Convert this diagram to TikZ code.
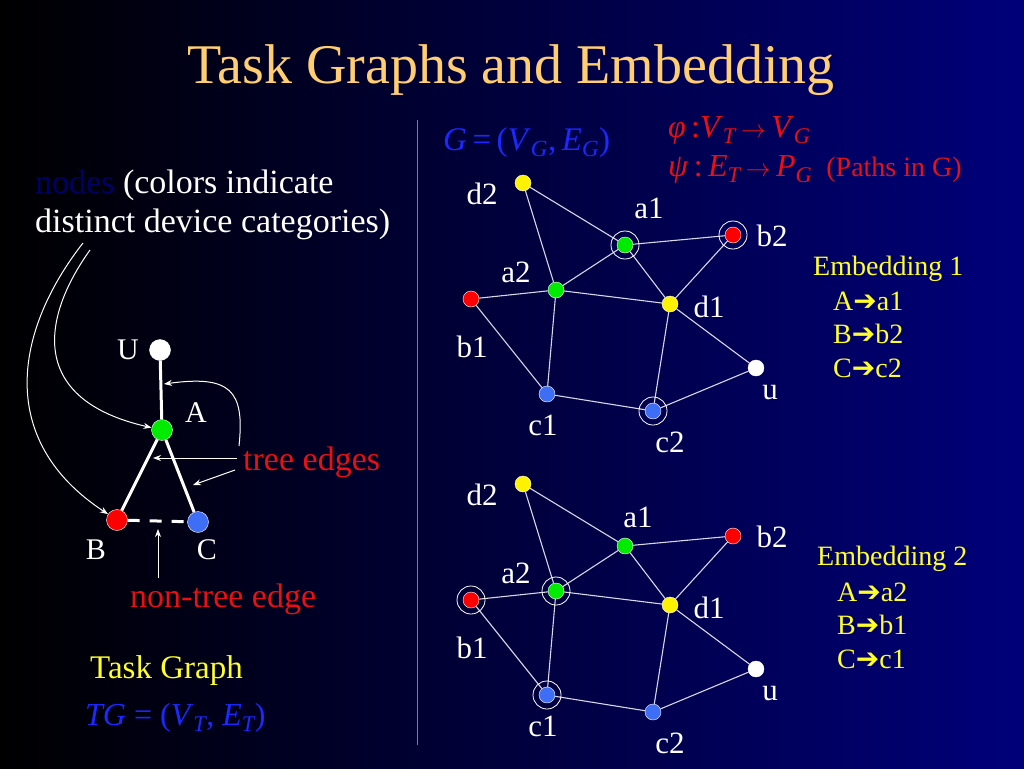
\documentclass[tikz,border=0pt]{standalone}
\usepackage{amstext}
\usepackage{fontspec}
\setmainfont{Liberation Serif}
\newfontfamily\arrowfont{DejaVu Sans}
\usepackage{tikz}
\usetikzlibrary{arrows.meta}
\definecolor{bgright}{RGB}{0,0,122}
\definecolor{titlecolor}{RGB}{255,206,112}
\definecolor{dred}{RGB}{235,16,16}
\definecolor{dblue}{RGB}{28,40,255}
\definecolor{hidden}{RGB}{0,0,105}
\definecolor{lyellow}{RGB}{255,255,40}
\definecolor{nred}{RGB}{255,0,0}
\definecolor{ngreen}{RGB}{0,235,0}
\definecolor{nblue}{RGB}{62,110,245}
\definecolor{nyellow}{RGB}{255,242,0}
\newcommand\fs[1]{\fontsize{#1}{#1}\selectfont}
\newcommand\lowsub[1]{$_{\textit{#1}}$}
\newcommand\maps{\,$\rightarrow$\,}
\newcommand\arr{{\arrowfont\char"2794}}
\tikzstyle{dev}=[circle,draw=white,line width=.4pt,minimum size=16pt,inner sep=0pt]
\tikzstyle{task}=[circle,draw=white,line width=.4pt,minimum size=21pt,inner sep=0pt]
\tikzstyle{ring}=[circle,draw=white,line width=.8pt,minimum size=28pt,inner sep=0pt]
\tikzstyle{lnk}=[draw={rgb,255:red,215;green,215;blue,230},line width=1.1pt]
\tikzstyle{tree}=[white,line width=3pt]
\tikzstyle{pointer}=[white,line width=1pt,-{Stealth[length=8pt,width=6pt]}]
\tikzstyle{lab}=[text=white,inner sep=0pt,font=\fs{31}]
\tikzstyle{tasklab}=[text=white,inner sep=0pt,font=\fs{30}]
\tikzstyle{txt}=[inner sep=0pt,anchor=base west,font=\fs{34}]
\tikzstyle{emb}=[inner sep=0pt,anchor=base west,text=lyellow,font=\fs{28}]
\begin{document}
\begin{tikzpicture}[x=1pt,y=-1pt]
	\useasboundingbox (0,0) rectangle (1024,768);
	\shade[left color=black,right color=bgright] (0,0) rectangle (1024,768);
	\node[inner sep=0pt,anchor=base,text=titlecolor,font=\fs{56}] (title) at (511,83) {Task Graphs and Embedding};
	\draw[gray,line width=1pt] (417,120) -- (417,745);
	% task graph
	\node[txt,text=white] (cols) at (35,193) {\textcolor{hidden}{nodes} (colors indicate};
	\node[txt,text=white] (cats) at (35,232) {distinct device categories)};
	\node[task,fill=white]  (U) at (160,350) {};
	\node[task,fill=ngreen] (A) at (162,430) {};
	\node[task,fill=nred]   (B) at (117,520) {};
	\node[task,fill=nblue]  (C) at (198,522) {};
	\node[tasklab] (U-lab) at (128,350) {U};
	\node[tasklab] (A-lab) at (196,413) {A};
	\node[tasklab] (B-lab) at (96,550) {B};
	\node[tasklab] (C-lab) at (207,550) {C};
	\draw[tree] (U) -- (A);
	\draw[tree] (A) -- (B);
	\draw[tree] (A) -- (C);
	\draw[tree,dash pattern=on 12pt off 10pt] (B) -- (C);
	\node[txt,text=dred] (treetxt) at (243,470) {tree edges};
	\node[txt,text=dred] (nontxt) at (130,607) {non-tree edge};
	\coordinate (c1s) at (83,243);
	\coordinate (c2s) at (90,250);
	\coordinate (t1s) at (237,458);
	\coordinate (t1e) at (153,458);
	\coordinate (t2s) at (235,470);
	\coordinate (t2e) at (193,485);
	\coordinate (t3s) at (239,446);
	\coordinate (t3e) at (164,384);
	\coordinate (ns) at (158,578);
	\coordinate (ne) at (158,529);
	\draw[pointer] (c1s) .. controls (15,330) and (-5,440) .. (B);
	\draw[pointer] (c2s) .. controls (40,320) and (30,400) .. (A);
	\draw[pointer] (t1s) -- (t1e);
	\draw[pointer] (t2s) -- (t2e);
	\draw[pointer] (t3s) .. controls (245,390) and (230,375) .. (t3e);
	\draw[pointer] (ns) -- (ne);
	\node[txt,text=lyellow,font=\fs{33}] (tgname) at (90,678) {Task Graph};
	\node[txt,text=dblue,font=\fs{32}] (tgdef) at (85,725) {\textit{TG} = (\textit{V}\lowsub{T}, \textit{E}\lowsub{T})};
	% network graph
	\node[txt,text=dblue,font=\fs{33}] (gdef) at (443,150) {\textit{G}\,=\,(\textit{V}\lowsub{G},\,\textit{E}\lowsub{G})};
	\node[txt,text=dred,font=\fs{32}] (phi) at (668,137) {\textit{φ}\,:\textit{V}\lowsub{T}\maps\textit{V}\lowsub{G}};
	\node[txt,text=dred,font=\fs{32}] (psi) at (668,176) {\textit{ψ}\,:\,\textit{E}\lowsub{T}\maps\textit{P}\lowsub{G}\hspace{14pt}{\fs{28}(Paths in G)}};
	\foreach \g/\dy/\ax/\ay in {1/0/649/208,2/301/638/216} {
	\begin{scope}[yshift=-\dy pt]
		\node[dev,fill=nyellow] (\g-d2) at (523,183) {};
		\node[dev,fill=ngreen]  (\g-a1) at (625,245) {};
		\node[dev,fill=nred]    (\g-b2) at (733,235) {};
		\node[dev,fill=ngreen]  (\g-a2) at (556,290) {};
		\node[dev,fill=nred]    (\g-b1) at (471,299) {};
		\node[dev,fill=nyellow] (\g-d1) at (670,304) {};
		\node[dev,fill=white]   (\g-u)  at (756,368) {};
		\node[dev,fill=nblue]   (\g-c1) at (547,394) {};
		\node[dev,fill=nblue]   (\g-c2) at (653,411) {};
		\foreach \p/\q in {d2/a1,d2/a2,a1/b2,a1/a2,a1/d1,b2/d1,a2/b1,a2/d1,a2/c1,b1/c1,d1/c2,d1/u,c1/c2,c2/u}
			\draw[lnk] (\g-\p) -- (\g-\q);
		\foreach \n/\lx/\ly in {d2/482/194,b2/772/236,a2/516/272,b1/472/347,d1/709/307,u/770/393,c1/543/425,c2/670/442}
			\node[lab] (\g-\n-lab) at (\lx,\ly) {\n};
		\node[lab] (\g-a1-lab) at (\ax,\ay) {a1};
	\end{scope}
	}
	\foreach \n in {1-a1,1-b2,1-c2,2-a2,2-b1,2-c1}
		\node[ring] (ring-\n) at (\n) {};
	% embeddings
	\node[emb] (emb1)  at (813,275) {Embedding 1};
	\node[emb] (emb1a) at (833,310) {A\arr a1};
	\node[emb] (emb1b) at (833,343) {B\arr b2};
	\node[emb] (emb1c) at (833,377) {C\arr c2};
	\node[emb] (emb2)  at (817,565) {Embedding 2};
	\node[emb] (emb2a) at (837,601) {A\arr a2};
	\node[emb] (emb2b) at (837,634) {B\arr b1};
	\node[emb] (emb2c) at (837,668) {C\arr c1};
\end{tikzpicture}
\end{document}
